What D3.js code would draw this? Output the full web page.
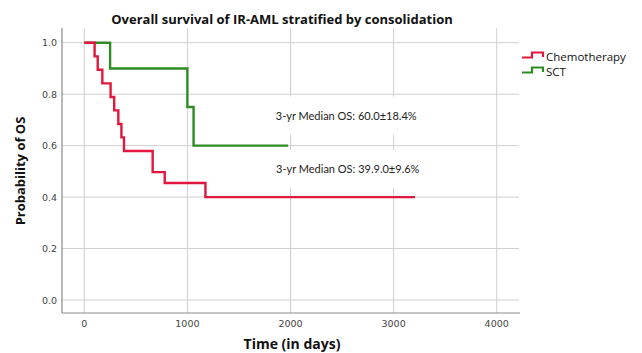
<!DOCTYPE html>
<html>
<head>
<meta charset="utf-8">
<script src="https://cdn.jsdelivr.net/npm/d3@7"></script>
<style>
  body { margin: 0; background: #fff; }
  svg { display: block; }
</style>
</head>
<body>
<div id="chart"></div>
<script>
//---------------------------------- Data --------------------
var chemoTime = [0, 100, 130, 175, 255, 290, 330, 360, 385, 663, 780, 1175, 3207];
var chemoSurv = [1.0, 0.947, 0.895, 0.842, 0.789, 0.737, 0.684, 0.632, 0.579, 0.497, 0.455, 0.400, 0.400];
var sctTime = [0, 250, 1000, 1060, 1977];
var sctSurv = [1.0, 0.9, 0.75, 0.6, 0.6];
var xTicks = [0, 1000, 2000, 3000, 4000];
var yTicks = [0.0, 0.2, 0.4, 0.6, 0.8, 1.0];
var groups = ["Chemotherapy", "SCT"];
var notes = ["3-yr Median OS: 60.0\u00b118.4%", "3-yr Median OS: 39.9.0\u00b19.6%"];
var noteTime = [2540, 2555];
var noteSurv = [0.717, 0.51];

//---------------------------------- View --------------------
var width = 642, height = 353;
var frame = {left: 62, right: 520, top: 28, bottom: 313};
var colors = {Chemotherapy: "#e1173d", SCT: "#2e8b24"};

var svg = d3.select("#chart").append("svg")
    .attr("width", width)
    .attr("height", height);

var x_scale = d3.scaleLinear().domain([0, 4000]).range([84.3, 496.7]);
var y_scale = d3.scaleLinear().domain([0, 1]).range([300, 42.7]);

// ---------- grid ----------
svg.append("g").selectAll("line.vgrid")
    .data(xTicks).enter().append("line")
    .attr("x1", function(d) { return x_scale(d); })
    .attr("x2", function(d) { return x_scale(d); })
    .attr("y1", frame.top).attr("y2", frame.bottom)
    .style("stroke", "#cfcfcf").style("stroke-width", 1);

svg.append("g").selectAll("line.hgrid")
    .data(yTicks).enter().append("line")
    .attr("x1", frame.left).attr("x2", frame.right - 1)
    .attr("y1", function(d) { return y_scale(d); })
    .attr("y2", function(d) { return y_scale(d); })
    .style("stroke", "#cfcfcf").style("stroke-width", 1);

// ---------- axis lines ----------
svg.append("line")
    .attr("x1", frame.left).attr("x2", frame.left)
    .attr("y1", frame.top).attr("y2", frame.bottom)
    .style("stroke", "#8a8a8a").style("stroke-width", 1.2);
svg.append("line")
    .attr("x1", frame.left).attr("x2", frame.right)
    .attr("y1", frame.bottom).attr("y2", frame.bottom)
    .style("stroke", "#8a8a8a").style("stroke-width", 1.2);

// ---------- tick labels ----------
svg.append("g").selectAll("text")
    .data(xTicks).enter().append("text")
    .attr("x", function(d) { return x_scale(d); })
    .attr("y", 327)
    .attr("text-anchor", "middle")
    .style("font-family", "DejaVu Sans")
    .style("font-size", "9.5px")
    .style("fill", "#444")
    .text(function(d) { return d; });

svg.append("g").selectAll("text")
    .data(yTicks).enter().append("text")
    .attr("x", 57)
    .attr("y", function(d) { return y_scale(d) + 3.5; })
    .attr("text-anchor", "end")
    .style("font-family", "DejaVu Sans")
    .style("font-size", "9.5px")
    .style("fill", "#444")
    .text(function(d) { return d.toFixed(1); });

// ---------- note boxes (white behind text) ----------
svg.append("g").selectAll("rect")
    .data(notes).enter().append("rect")
    .attr("x", function(d, i) { return x_scale(noteTime[i]) - 76; })
    .attr("y", function(d, i) { return y_scale(noteSurv[i]) - 19; })
    .attr("width", 152)
    .attr("height", 38)
    .style("fill", "#fff");

// ---------- curves ----------
var line = d3.line()
    .x(function(d) { return x_scale(d[0]); })
    .y(function(d) { return y_scale(d[1]); })
    .curve(d3.curveStepAfter);

var series = [
  {name: "SCT", pts: d3.zip(sctTime, sctSurv)},
  {name: "Chemotherapy", pts: d3.zip(chemoTime, chemoSurv)}
];

svg.append("g").selectAll("path")
    .data(series).enter().append("path")
    .attr("d", function(d) { return line(d.pts); })
    .style("fill", "none")
    .style("stroke", function(d) { return colors[d.name]; })
    .style("stroke-width", 2.4);

// ---------- notes ----------
svg.append("g").selectAll("text")
    .data(notes).enter().append("text")
    .attr("x", function(d, i) { return x_scale(noteTime[i]); })
    .attr("y", function(d, i) { return y_scale(noteSurv[i]) + 4; })
    .attr("text-anchor", "middle")
    .style("font-family", "Lato")
    .style("font-size", "11px")
    .style("fill", "#222")
    .text(function(d) { return d; });

// ---------- legend ----------
var legend = svg.append("g").selectAll("g")
    .data(groups).enter().append("g")
    .attr("transform", function(d, i) { return "translate(522," + (57.5 + i * 15) + ")"; });

legend.append("path")
    .attr("d", "M0,0 H10 V-5 H21 V-0.5")
    .style("fill", "none")
    .style("stroke", function(d) { return colors[d]; })
    .style("stroke-width", 2.2);

legend.append("text")
    .attr("x", 24)
    .attr("y", 3.5)
    .style("font-family", "Open Sans")
    .style("font-size", "11.5px")
    .style("fill", "#111")
    .text(function(d) { return d; });

// ---------- titles ----------
svg.append("text")
    .attr("x", 282).attr("y", 24)
    .attr("text-anchor", "middle")
    .style("font-family", "Open Sans")
    .style("font-weight", "bold")
    .style("font-size", "13px")
    .style("fill", "#111")
    .text("Overall survival of IR-AML stratified by consolidation");

svg.append("text")
    .attr("x", 292).attr("y", 349)
    .attr("text-anchor", "middle")
    .style("font-family", "Open Sans")
    .style("font-weight", "bold")
    .style("font-size", "14px")
    .style("fill", "#111")
    .text("Time (in days)");

svg.append("text")
    .attr("transform", "translate(25,171) rotate(-90)")
    .attr("text-anchor", "middle")
    .style("font-family", "Open Sans")
    .style("font-weight", "bold")
    .style("font-size", "13px")
    .style("fill", "#111")
    .text("Probability of OS");
</script>
</body>
</html>
